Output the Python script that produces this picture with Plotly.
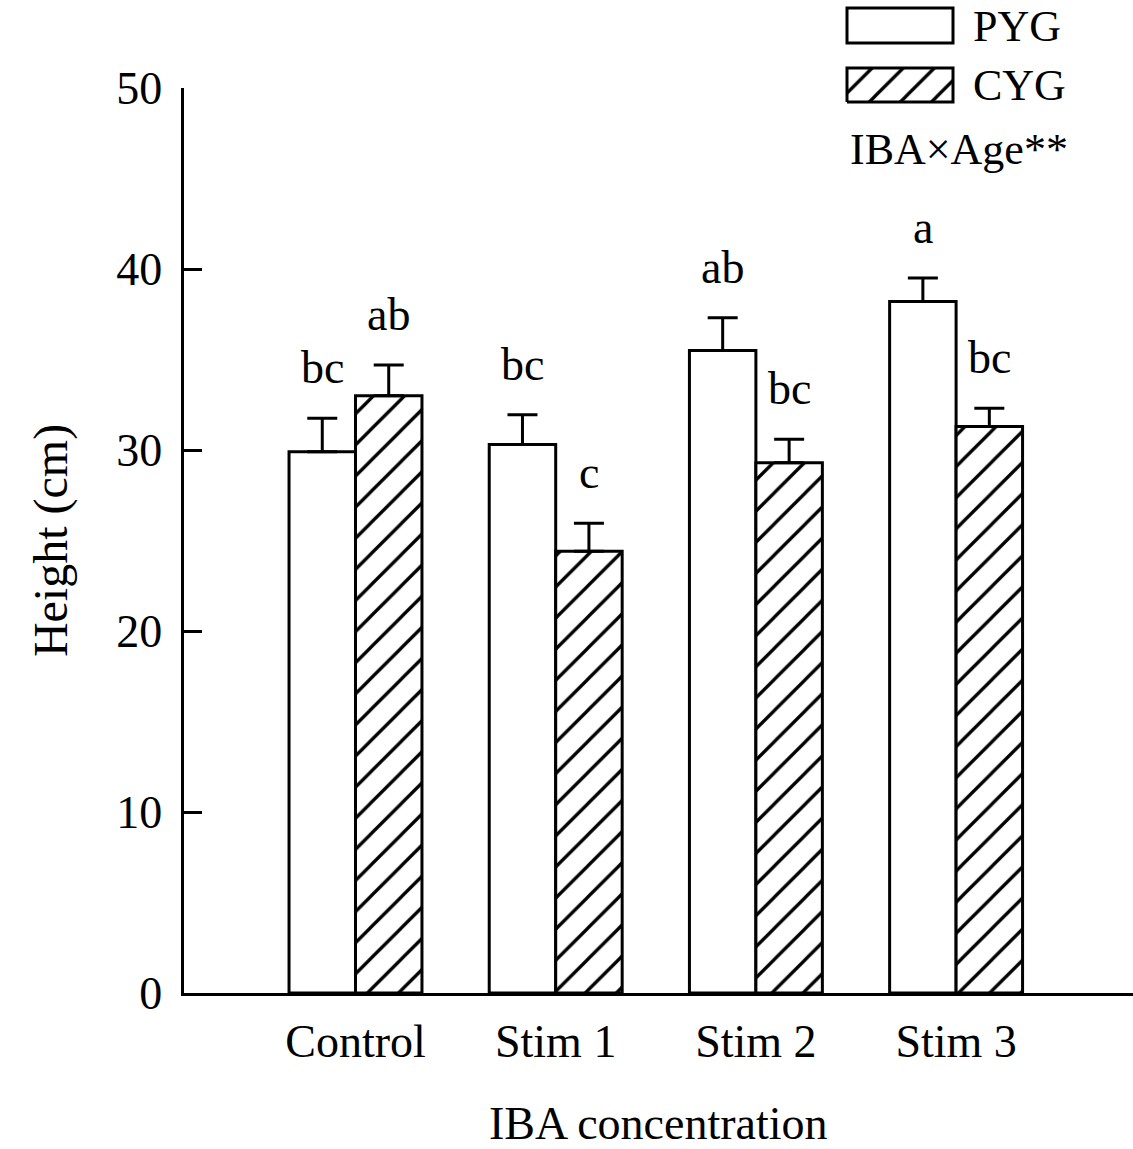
import plotly.graph_objects as go

# Plant height by IBA treatment for two seedling ages
categories = ["Control", "Stim 1", "Stim 2", "Stim 3"]
pyg_height = [29.9, 30.3, 35.5, 38.2]
pyg_se = [1.85, 1.65, 1.8, 1.3]
cyg_height = [33.0, 24.4, 29.3, 31.3]
cyg_se = [1.7, 1.55, 1.3, 1.0]
pyg_letters = ["bc", "bc", "ab", "a"]
cyg_letters = ["ab", "c", "bc", "bc"]
y_ticks = [0, 10, 20, 30, 40, 50]

W, H = 1133, 1149
FONT = "Liberation Serif, Times New Roman, serif"
FS = 46
BARGAP = 0.336
HATCH = dict(shape="/", fgcolor="black", fgopacity=1, bgcolor="white",
             size=22, solidity=0.15)

fig = go.Figure()

fig.add_trace(go.Bar(
    x=categories, y=pyg_height, name="PYG", showlegend=False,
    marker=dict(color="white", line=dict(color="black", width=3)),
    error_y=dict(type="data", array=pyg_se, arrayminus=[0] * len(pyg_se),
                 symmetric=False, color="black", thickness=3, width=15),
))
fig.add_trace(go.Bar(
    x=categories, y=cyg_height, name="CYG", showlegend=False,
    marker=dict(color="white", pattern=HATCH, line=dict(color="black", width=3)),
    error_y=dict(type="data", array=cyg_se, arrayminus=[0] * len(cyg_se),
                 symmetric=False, color="black", thickness=3, width=15),
))

# significance letters above each bar
half = (1 - BARGAP) / 4
annotations = []
for i in range(len(categories)):
    for letters, vals, errs, sign in ((pyg_letters, pyg_height, pyg_se, -1),
                                      (cyg_letters, cyg_height, cyg_se, 1)):
        annotations.append(dict(
            x=i + sign * half, y=vals[i] + errs[i], xref="x", yref="y",
            text=letters[i], showarrow=False, yanchor="bottom", yshift=23,
            font=dict(family=FONT, size=FS, color="black"),
        ))

# legend swatch for CYG: hatched box on a hidden helper axis pair
bx0, bx1, by0, by1 = 847, 953, 68, 102
pad = 3
fig.add_trace(go.Scatter(
    x=[0, 1, 1, 0, 0], y=[0, 0, 1, 1, 0], mode="lines", fill="toself",
    fillcolor="white", fillpattern=HATCH, line=dict(color="black", width=3),
    xaxis="x2", yaxis="y2", showlegend=False, hoverinfo="skip",
))

shapes = [dict(type="rect", xref="paper", yref="paper",
               x0=847 / W, x1=953 / W, y0=1 - 43 / H, y1=1 - 8 / H,
               line=dict(color="black", width=3), fillcolor="white")]

for txt, px, py in (("PYG", 971, 26), ("CYG", 971, 86)):
    annotations.append(dict(x=px / W, y=1 - py / H, xref="paper", yref="paper",
                            text=txt, showarrow=False, xanchor="left", yanchor="middle",
                            font=dict(family=FONT, size=FS - 2, color="black")))
annotations.append(dict(x=848 / W, y=1 - 150 / H, xref="paper", yref="paper",
                        text="IBA×Age**", showarrow=False, xanchor="left", yanchor="middle",
                        font=dict(family=FONT, size=FS - 2, color="black")))

cat_px = 200.2
x_lo = (183.5 - 355.5) / cat_px
x_hi = (W - 355.5) / cat_px

fig.update_layout(
    width=W, height=H,
    margin=dict(l=0, r=0, t=0, b=0, pad=0),
    paper_bgcolor="white", plot_bgcolor="rgba(0,0,0,0)",
    barmode="group", bargap=BARGAP, bargroupgap=0,
    font=dict(family=FONT, size=FS, color="black"),
    annotations=annotations, shapes=shapes,
    xaxis=dict(
        domain=[183.5 / W, 1.0], range=[x_lo, x_hi], type="category",
        showline=True, linecolor="black", linewidth=3, ticks="",
        showgrid=False, zeroline=False, automargin=False,
        tickfont=dict(family=FONT, size=FS), ticklabelstandoff=6,
        title=dict(text="IBA concentration", font=dict(family=FONT, size=FS), standoff=42),
    ),
    yaxis=dict(
        domain=[1 - 993 / H, 1 - 88 / H], range=[0, 50], tickvals=y_ticks,
        showline=True, linecolor="black", linewidth=3,
        ticks="inside", ticklen=18, tickwidth=3, tickcolor="black",
        showgrid=False, zeroline=False, automargin=False,
        tickfont=dict(family=FONT, size=FS), ticklabelstandoff=9,
        title=dict(text="Height (cm)", font=dict(family=FONT, size=FS + 2), standoff=34),
    ),
    xaxis2=dict(domain=[(bx0 - pad) / W, (bx1 + pad) / W],
                range=[-pad / (bx1 - bx0), 1 + pad / (bx1 - bx0)],
                visible=False, fixedrange=True, anchor="y2"),
    yaxis2=dict(domain=[1 - (by1 + pad) / H, 1 - (by0 - pad) / H],
                range=[-pad / (by1 - by0), 1 + pad / (by1 - by0)],
                visible=False, fixedrange=True, anchor="x2"),
)

fig.write_html("out.html")
